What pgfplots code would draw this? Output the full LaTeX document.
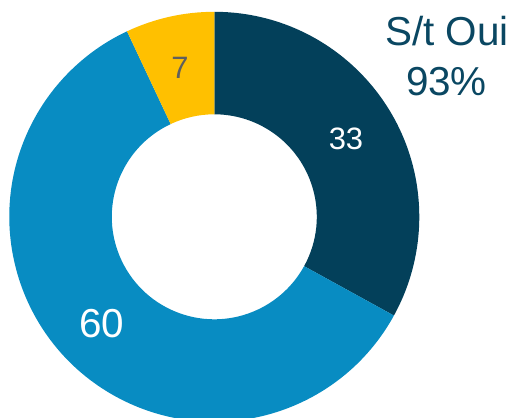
\documentclass[border=0pt]{standalone}
\usepackage{pgfplots}
\pgfplotsset{compat=1.18}
\usepackage{pgfplotstable}
\usepackage{fontspec}
\setmainfont{Liberation Sans}
\usetikzlibrary{calc}
\definecolor{navy}{HTML}{03405A}
\definecolor{cblue}{HTML}{088CC2}
\definecolor{cyellow}{HTML}{FFC000}
\definecolor{ctitle}{HTML}{0A4762}
\definecolor{cgray}{HTML}{5F5F5F}
\pgfplotstableread{
label value
Oui 33
PlutotOui 60
Non 7
}\donutdata
\begin{document}
\begin{tikzpicture}
\pgfplotstablegetelem{0}{value}\of\donutdata \let\va\pgfplotsretval
\pgfplotstablegetelem{1}{value}\of\donutdata \let\vb\pgfplotsretval
\pgfplotstablegetelem{2}{value}\of\donutdata \let\vc\pgfplotsretval
\pgfmathsetmacro\aA{90}
\pgfmathsetmacro\aB{90-3.6*\va}
\pgfmathsetmacro\aC{\aB-3.6*\vb}
\pgfmathsetmacro\aD{\aC-3.6*\vc}
\def\Ro{2.05cm}
\def\Ri{1.025cm}
\begin{axis}[name=ax,
  width=5.15cm, height=4.18cm, scale only axis,
  xmin=0, xmax=515, ymin=0, ymax=418,
  hide axis, clip=false]
\coordinate (C) at (axis cs:214.3,201.2);
\fill[navy] ($(C)+(\aA:\Ro)$) arc[start angle=\aA, end angle=\aB, radius=\Ro]
  -- ($(C)+(\aB:\Ri)$) arc[start angle=\aB, end angle=\aA, radius=\Ri] -- cycle;
\fill[cblue] ($(C)+(\aB:\Ro)$) arc[start angle=\aB, end angle=\aC, radius=\Ro]
  -- ($(C)+(\aC:\Ri)$) arc[start angle=\aC, end angle=\aB, radius=\Ri] -- cycle;
\fill[cyellow] ($(C)+(\aC:\Ro)$) arc[start angle=\aC, end angle=\aD, radius=\Ro]
  -- ($(C)+(\aD:\Ri)$) arc[start angle=\aD, end angle=\aC, radius=\Ri] -- cycle;
\node[anchor=base, inner sep=0pt, text=white, font=\fontsize{8.8pt}{10pt}\selectfont] at (axis cs:346,268) {\va};
\node[anchor=base, inner sep=0pt, text=white, font=\fontsize{11.5pt}{13pt}\selectfont] at (axis cs:101.7,80.7) {\vb};
\node[anchor=base, inner sep=0pt, text=cgray, font=\fontsize{8.8pt}{10pt}\selectfont] at (axis cs:180,339.7) {\vc};
\node[anchor=base, inner sep=0pt, text=ctitle, font=\fontsize{11.5pt}{13pt}\selectfont] at (axis cs:447,372.3) {S/t Oui};
\node[anchor=base, inner sep=0pt, text=ctitle, font=\fontsize{11.5pt}{13pt}\selectfont] at (axis cs:446.5,322) {93\%};
\end{axis}
\pgfresetboundingbox
\path (ax.south west) rectangle (ax.north east);
\end{tikzpicture}
\end{document}
